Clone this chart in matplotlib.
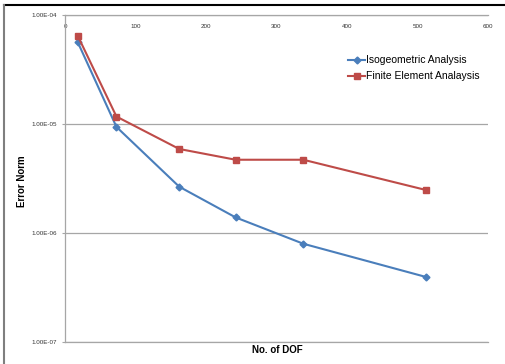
import matplotlib
matplotlib.use("Agg")
import matplotlib.pyplot as plt
from matplotlib.lines import Line2D
from matplotlib.ticker import FixedLocator, FixedFormatter, NullLocator

# convergence data: error norm vs number of degrees of freedom
dof = [18, 73, 162, 242, 338, 512]
err_iga = [5.65e-5, 9.4e-6, 2.66e-6, 1.39e-6, 7.97e-7, 3.95e-7]
err_fea = [6.46e-5, 1.17e-5, 5.9e-6, 4.7e-6, 4.7e-6, 2.48e-6]

x_ticks = [0, 100, 200, 300, 400, 500, 600]
y_ticks = [1e-7, 1e-6, 1e-5, 1e-4]
y_tick_labels = ["1.00E-07", "1.00E-06", "1.00E-05", "1.00E-04"]

plt.rcParams["font.family"] = ["Liberation Sans", "DejaVu Sans"]

W, H = 505, 364
fig = plt.figure(figsize=(W / 100, H / 100), dpi=100)
ax = fig.add_axes([65 / W, 1 - 342 / H, (488 - 65) / W, (342 - 15) / H])

blue = "#4A7EBB"
red = "#BE4B48"
grid_c = "#A6A6A6"

ax.plot(dof, err_iga, color=blue, lw=1.5, marker="D", ms=3.5,
        label="Isogeometric Analysis")
ax.plot(dof, err_fea, color=red, lw=1.5, marker="s", ms=5,
        label="Finite Element Analaysis")

ax.set_yscale("log")
ax.set_xlim(0, 600)
ax.set_ylim(1e-7, 1e-4)

ax.yaxis.set_major_locator(FixedLocator(y_ticks))
ax.yaxis.set_major_formatter(FixedFormatter(y_tick_labels))
ax.yaxis.set_minor_locator(NullLocator())
ax.set_xticks(x_ticks)
ax.set_xticklabels([str(v) for v in x_ticks])

ax.grid(axis="y", color=grid_c, lw=0.9)
ax.set_axisbelow(True)

# x axis drawn along the top edge with its labels just underneath
ax.xaxis.tick_top()
ax.tick_params(axis="x", length=0, pad=-10, labelsize=4.5, labelcolor="#333333")
ax.tick_params(axis="y", length=2, width=0.8, color=grid_c, pad=4,
               labelsize=4.5, labelcolor="#333333")

ax.spines["right"].set_visible(False)
for side in ["top", "left", "bottom"]:
    ax.spines[side].set_color(grid_c)
    ax.spines[side].set_linewidth(0.9)

fig.text(277 / W, 1 - 350 / H, "No. of DOF", ha="center", va="center",
         fontsize=7, fontweight="bold")
fig.text(22 / W, 1 - 181 / H, "Error Norm", ha="center", va="center",
         rotation=90, fontsize=7, fontweight="bold")

ax.legend(loc="upper left", bbox_to_anchor=(344 / W, 1 - 51 / H),
          bbox_transform=fig.transFigure, frameon=False, fontsize=7.5,
          handlelength=1.6, handletextpad=0.1, labelspacing=0.6,
          borderaxespad=0)

# frame around the chart area
fig.add_artist(Line2D([4 / W, 1], [1 - 4.5 / H, 1 - 4.5 / H],
                      transform=fig.transFigure, color="black", lw=1.5))
fig.add_artist(Line2D([3.5 / W, 3.5 / W], [0, 1 - 4.5 / H],
                      transform=fig.transFigure, color="#7F7F7F", lw=1.5))

fig.savefig("out.png", dpi=100)
